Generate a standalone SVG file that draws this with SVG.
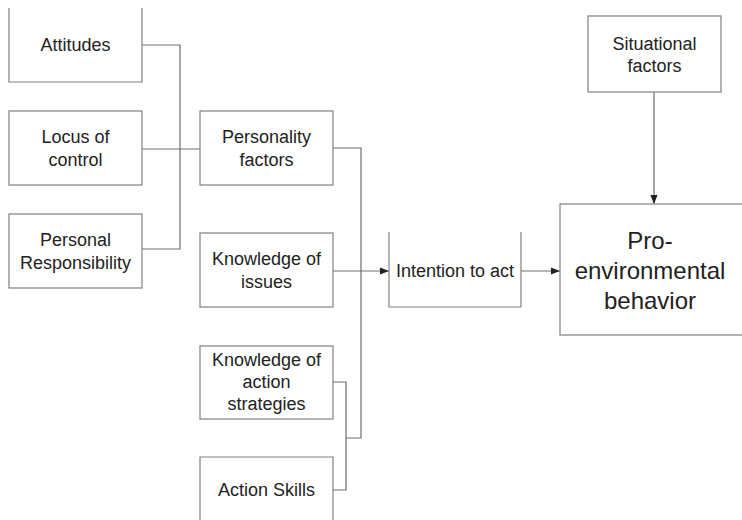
<svg xmlns="http://www.w3.org/2000/svg" width="742" height="520" viewBox="0 0 742 520">
<style>
.box{fill:#fff;stroke:#808080;stroke-width:1.2}
.ln{fill:none;stroke:#6e6e6e;stroke-width:1.2}
text{font-family:"Liberation Sans",Arial,sans-serif;font-size:18px;fill:#222;text-anchor:middle}
.big{font-size:24px}
</style>
<defs>
<marker id="ah" viewBox="0 0 10 10" refX="10" refY="5" markerWidth="9" markerHeight="9" markerUnits="userSpaceOnUse" orient="auto">
<path d="M0,1 L10,5 L0,9 z" fill="#222"/>
</marker>
</defs>
<g id="connectors">
<path class="ln" d="M142,45 H180 V249 H142"/>
<path class="ln" d="M142,149 H200"/>
<path class="ln" d="M333,148 H361 V438 H346"/>
<path class="ln" d="M333,382 H346 V490 H333"/>
<path class="ln" d="M333,271 H389" marker-end="url(#ah)"/>
<path class="ln" d="M521,271 H560" marker-end="url(#ah)"/>
<path class="ln" d="M654,92 V204" marker-end="url(#ah)"/>
</g>
<g id="attitudes">
<path class="box" d="M9,8 V82 H142 V8"/>
<text x="75.5" y="51">Attitudes</text>
</g>
<g id="locus">
<rect class="box" x="9" y="111" width="133" height="74"/>
<text x="75.5" y="143">Locus of</text>
<text x="75.5" y="166">control</text>
</g>
<g id="responsibility">
<rect class="box" x="9" y="214" width="133" height="74"/>
<text x="75.5" y="246">Personal</text>
<text x="75.5" y="269">Responsibility</text>
</g>
<g id="personality">
<rect class="box" x="200" y="111" width="133" height="74"/>
<text x="266.5" y="143">Personality</text>
<text x="266.5" y="166">factors</text>
</g>
<g id="issues">
<rect class="box" x="200" y="233" width="133" height="74"/>
<text x="266.5" y="265">Knowledge of</text>
<text x="266.5" y="288">issues</text>
</g>
<g id="strategies">
<rect class="box" x="200" y="346" width="133" height="73"/>
<text x="266.5" y="366">Knowledge of</text>
<text x="266.5" y="388">action</text>
<text x="266.5" y="410">strategies</text>
</g>
<g id="skills">
<path class="box" d="M200,522 V457 H333 V522"/>
<text x="266.5" y="496">Action Skills</text>
</g>
<g id="intention">
<path class="box" d="M389,232 V307 H521 V232"/>
<text x="455" y="277">Intention to act</text>
</g>
<g id="situational">
<rect class="box" x="588" y="16" width="133" height="76"/>
<text x="654.5" y="50">Situational</text>
<text x="654.5" y="72">factors</text>
</g>
<g id="behavior">
<rect class="box" x="560" y="204" width="190" height="131"/>
<text class="big" x="650" y="249">Pro-</text>
<text class="big" x="650" y="279">environmental</text>
<text class="big" x="650" y="309">behavior</text>
</g>
</svg>
